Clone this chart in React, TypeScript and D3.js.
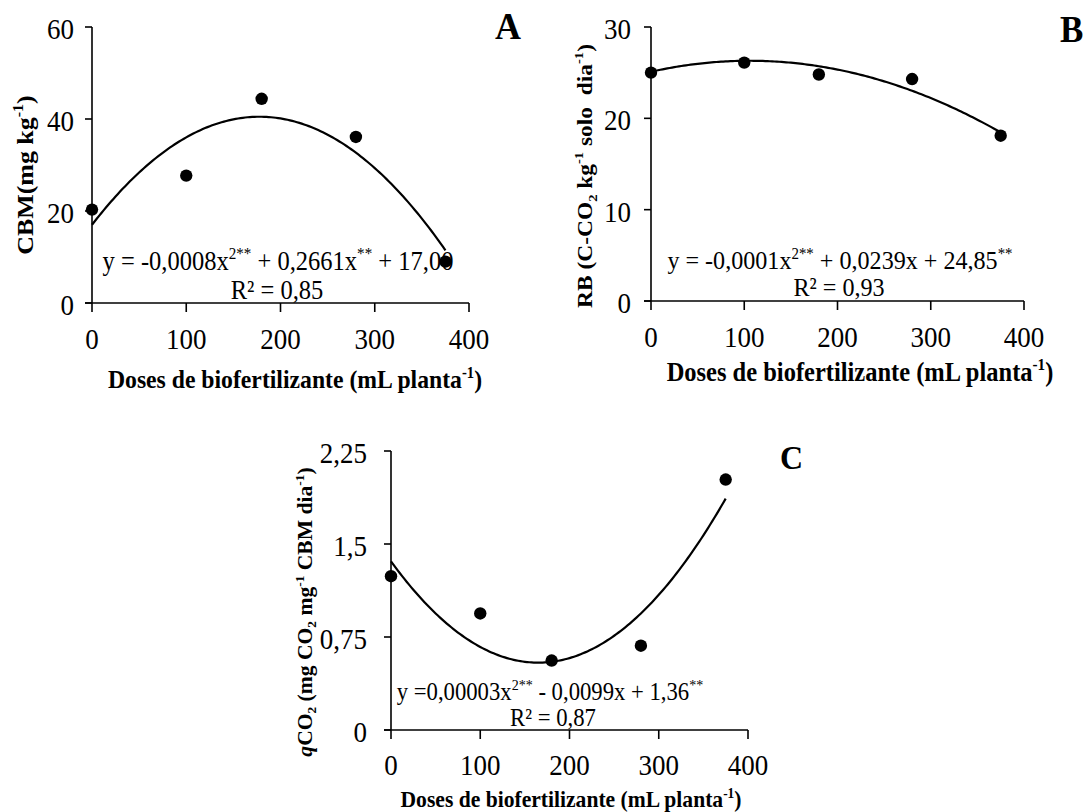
import * as d3 from "d3";

// doses of biofertilizer (mL planta-1)
const doses = [0, 100, 180, 280, 375];
const cbmValues = [20.3, 27.7, 44.4, 36.1, 9.0];
const rbValues = [25.0, 26.1, 24.8, 24.3, 18.1];
const qco2Values = [1.24, 0.94, 0.56, 0.68, 2.02];

// quadratic trend lines as drawn [a, b, c]
const cbmFit = [-0.000745, 0.2646, 17.0];
const rbFit = [-0.000108, 0.0228, 25.1];
const qco2Fit = [0.00003, -0.0099, 1.36];

const xTicks = [0, 100, 200, 300, 400];
const cbmTicks = [0, 20, 40, 60];
const rbTicks = [0, 10, 20, 30];
const qco2Ticks = [0, 0.75, 1.5, 2.25];

type Seg = { t: string; s?: "sup" | "sub"; i?: boolean };

const FONT = "'Liberation Serif', 'Times New Roman', serif";
const SY = 1.08; // the figure is slightly stretched vertically

const fmt = (v: number) => String(v).replace(".", ",");

function Rich({
  x, y, segs, size, bold = false, anchor = "start", rotate = false, supScale = 0.62,
}: {
  x: number; y: number; segs: Seg[]; size: number; bold?: boolean;
  anchor?: string; rotate?: boolean; supScale?: number;
}) {
  let cur = 0;
  return (
    <text
      transform={`translate(${x},${y}) scale(1,${SY})${rotate ? " rotate(-90)" : ""}`}
      textAnchor={anchor}
      fontFamily={FONT}
      fontSize={size}
      fontWeight={bold ? "bold" : "normal"}
      fill="#000"
      style={{ whiteSpace: "pre" }}
    >
      {segs.map((sg, k) => {
        const target = sg.s === "sup" ? -0.4 * size : sg.s === "sub" ? 0.22 * size : 0;
        const dy = target - cur;
        cur = target;
        return (
          <tspan
            key={k}
            dy={dy}
            fontSize={sg.s ? size * supScale : size}
            fontStyle={sg.i ? "italic" : "normal"}
          >
            {sg.t}
          </tspan>
        );
      })}
    </text>
  );
}

const xTitle: Seg[] = [{ t: "Doses de biofertilizante (mL planta" }, { t: "-1", s: "sup" }, { t: ")" }];

type Panel = {
  values: number[];
  fit: number[];
  yTicks: number[];
  x0: number; x1: number; yTop: number; yBot: number;
  yLabGap: number;
  xLabY: number;
  letter: string; letterX: number; letterY: number; letterSize: number;
  eq: Seg[]; eqX: number; eqY: number; eqSize: number;
  r2: string; r2X: number; r2Y: number;
  yTitle: Seg[]; yTitleX: number; yTitleY: number; yTitleSize: number;
  xTitleX: number; xTitleY: number; xTitleSize: number;
};

const panels: Panel[] = [
  {
    values: cbmValues, fit: cbmFit, yTicks: cbmTicks,
    x0: 92, x1: 469, yTop: 27, yBot: 303, yLabGap: 18, xLabY: 349,
    letter: "A", letterX: 495, letterY: 39, letterSize: 36,
    eq: [
      { t: "y = -0,0008x" }, { t: "2**", s: "sup" }, { t: " + 0,2661x" }, { t: "**", s: "sup" }, { t: " + 17,00" },
    ],
    eqX: 278, eqY: 270, eqSize: 24.5,
    r2: "R² = 0,85", r2X: 277, r2Y: 299,
    yTitle: [{ t: "CBM(mg kg" }, { t: "-1", s: "sup" }, { t: ")" }],
    yTitleX: 33, yTitleY: 175, yTitleSize: 24,
    xTitleX: 295, xTitleY: 388, xTitleSize: 23.7,
  },
  {
    values: rbValues, fit: rbFit, yTicks: rbTicks,
    x0: 651, x1: 1024, yTop: 27, yBot: 301, yLabGap: 20, xLabY: 347,
    letter: "B", letterX: 1060, letterY: 42, letterSize: 35,
    eq: [
      { t: "y = -0,0001x" }, { t: "2**", s: "sup" }, { t: " + 0,0239x + 24,85" }, { t: "**", s: "sup" },
    ],
    eqX: 840, eqY: 269, eqSize: 24.1,
    r2: "R² = 0,93", r2X: 839, r2Y: 296,
    yTitle: [
      { t: "RB (C-CO" }, { t: "2", s: "sub" }, { t: " kg" }, { t: "-1", s: "sup" }, { t: " solo  dia" },
      { t: "-1", s: "sup" }, { t: ")" },
    ],
    yTitleX: 592, yTitleY: 176, yTitleSize: 21.7,
    xTitleX: 860, xTitleY: 381, xTitleSize: 24.5,
  },
  {
    values: qco2Values, fit: qco2Fit, yTicks: qco2Ticks,
    x0: 391, x1: 748, yTop: 451, yBot: 730, yLabGap: 24, xLabY: 775,
    letter: "C", letterX: 780, letterY: 469, letterSize: 32,
    eq: [
      { t: "y =0,00003x" }, { t: "2**", s: "sup" }, { t: " - 0,0099x + 1,36" }, { t: "**", s: "sup" },
    ],
    eqX: 550, eqY: 700, eqSize: 22.7,
    r2: "R² = 0,87", r2X: 553, r2Y: 726,
    yTitle: [
      { t: "q", i: true }, { t: "CO" }, { t: "2", s: "sub" }, { t: " (mg CO" }, { t: "2", s: "sub" }, { t: " mg" },
      { t: "-1", s: "sup" }, { t: " CBM dia" }, { t: "-1", s: "sup" }, { t: ")" },
    ],
    yTitleX: 312, yTitleY: 612, yTitleSize: 20,
    xTitleX: 571, xTitleY: 807, xTitleSize: 21.6,
  },
];

function Chart({ p }: { p: Panel }) {
  const x = d3.scaleLinear().domain([0, 400]).range([p.x0, p.x1]);
  const y = d3
    .scaleLinear()
    .domain([0, p.yTicks[p.yTicks.length - 1]])
    .range([p.yBot, p.yTop]);
  const [a, b, c] = p.fit;
  const curveX = d3.range(0, doses[doses.length - 1] + 0.01, 2.5);
  const line = d3
    .line<number>()
    .x((d) => x(d))
    .y((d) => y(a * d * d + b * d + c));

  const tickSize = 27;
  const off = 0.338 * tickSize * SY;

  return (
    <g>
      {/* axes */}
      <line x1={p.x0} x2={p.x0} y1={p.yTop} y2={p.yBot} stroke="#000" strokeWidth={1.6} />
      <line x1={p.x0 - 7} x2={p.x1} y1={p.yBot} y2={p.yBot} stroke="#000" strokeWidth={1.6} />
      {p.yTicks.map((t) => (
        <g key={"y" + t}>
          <line x1={p.x0 - 7} x2={p.x0} y1={y(t)} y2={y(t)} stroke="#000" strokeWidth={1.6} />
          <text
            transform={`translate(${p.x0 - p.yLabGap},${y(t) + off + 2}) scale(1,${SY})`}
            textAnchor="end"
            fontFamily={FONT}
            fontSize={tickSize}
          >
            {fmt(t)}
          </text>
        </g>
      ))}
      {xTicks.map((t) => (
        <g key={"x" + t}>
          <line x1={x(t)} x2={x(t)} y1={p.yBot} y2={p.yBot + 9} stroke="#000" strokeWidth={1.6} />
          <text
            transform={`translate(${x(t)},${p.xLabY}) scale(1,${SY})`}
            textAnchor="middle"
            fontFamily={FONT}
            fontSize={tickSize}
          >
            {fmt(t)}
          </text>
        </g>
      ))}

      {/* trend line and points */}
      <path d={line(curveX) ?? ""} fill="none" stroke="#000" strokeWidth={2.2} />
      {doses.map((d, i) => (
        <circle key={i} cx={x(d)} cy={y(p.values[i])} r={6.2} fill="#000" />
      ))}

      {/* texts */}
      <Rich x={p.eqX} y={p.eqY} segs={p.eq} size={p.eqSize} anchor="middle" />
      <Rich x={p.r2X} y={p.r2Y} segs={[{ t: p.r2 }]} size={p.eqSize} anchor="middle" />
      <Rich x={p.letterX} y={p.letterY} segs={[{ t: p.letter }]} size={p.letterSize} bold />
      <Rich
        x={p.yTitleX}
        y={p.yTitleY}
        segs={p.yTitle}
        size={p.yTitleSize}
        bold
        anchor="middle"
        rotate
      />
      <Rich x={p.xTitleX} y={p.xTitleY} segs={xTitle} size={p.xTitleSize} bold anchor="middle" />
    </g>
  );
}

export default function App() {
  return (
    <svg
      width={1085}
      height={812}
      viewBox="0 0 1085 812"
      style={{ position: "absolute", left: 0, top: 0, background: "#fff" }}
    >
      <rect width={1085} height={812} fill="#fff" />
      {panels.map((p, i) => (
        <Chart key={i} p={p} />
      ))}
    </svg>
  );
}
